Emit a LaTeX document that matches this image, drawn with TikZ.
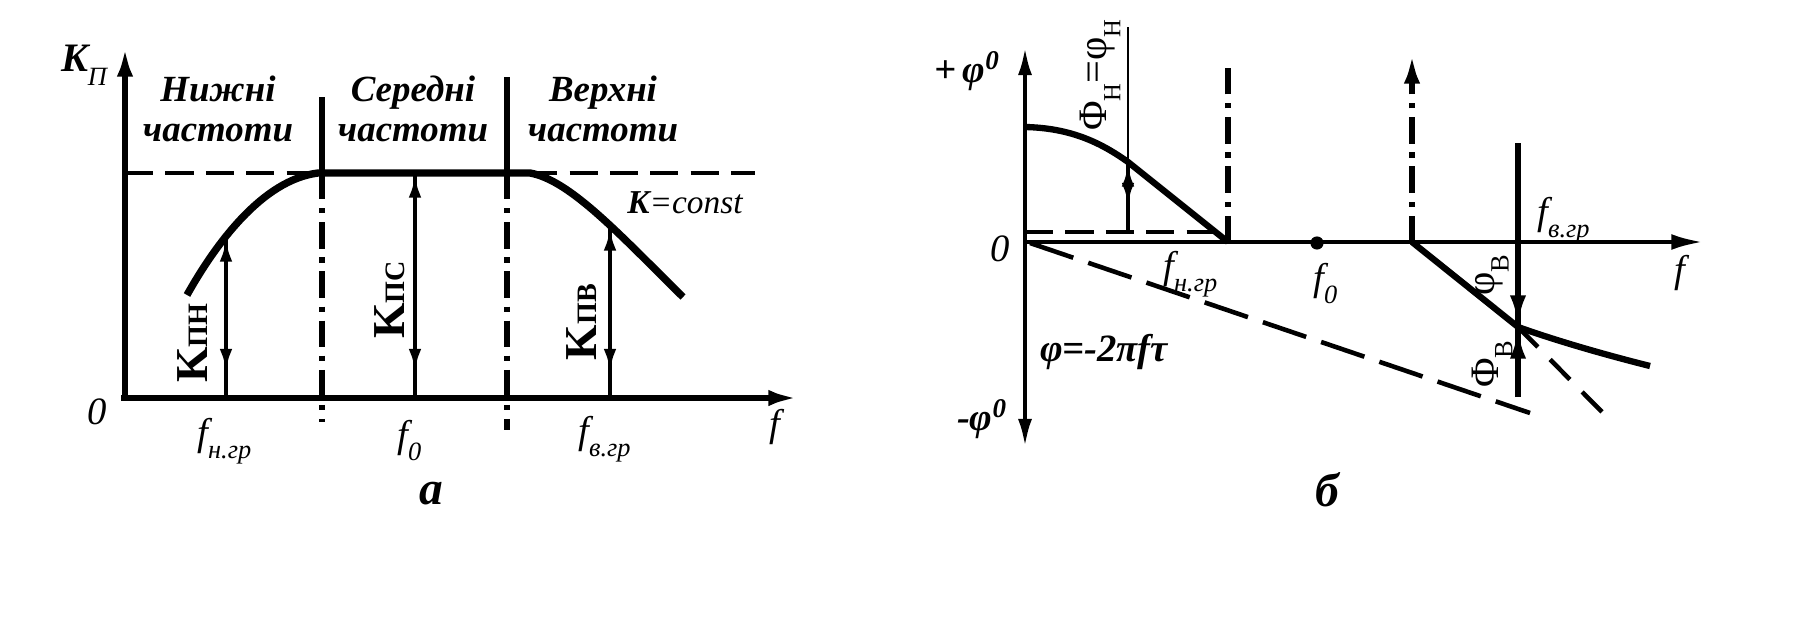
\documentclass[tikz,border=0pt]{standalone}
\usepackage{fontspec}
\setmainfont{Liberation Serif}
\usetikzlibrary{arrows.meta,decorations.markings}
\newcommand{\lowidx}[2][15]{\raisebox{-0.35em}{\fontsize{#1}{#1}\selectfont #2}}

\begin{document}
\begin{tikzpicture}[%
    x=0.02cm, y=-0.02cm,
    axis/.style={line width=3.8pt},
    thinaxis/.style={line width=2.4pt},
    headed/.style={-{Latex[length=18pt,width=9pt]}},
    curve/.style={line width=4.2pt, line join=round},
    plateau/.style={line width=2.8pt, dash pattern=on 16pt off 7pt},
    divider/.style={line width=3.6pt, dash pattern=on 15pt off 5pt on 3pt off 5pt},
    delay/.style={line width=2.6pt, dash pattern=on 26pt off 9pt},
    gain/.style={line width=2.8pt,
        postaction={decorate, decoration={markings,
            mark=at position 14pt with {\arrow{Latex[reversed,length=14pt,width=7pt]}},
            mark=at position -14pt with {\arrow{Latex[length=14pt,width=7pt]}}}}},
    band/.style={font=\fontsize{21}{22.7}\selectfont\bfseries\itshape,
        align=center, inner sep=0pt, anchor=north},
    freq/.style={font=\fontsize{22}{24}\selectfont\itshape, inner sep=0pt},
    gainlabel/.style={font=\fontsize{26}{28}\selectfont\bfseries, rotate=90, inner sep=0pt},
    anglelabel/.style={font=\fontsize{23}{25}\selectfont, rotate=90, inner sep=0pt},
    tag/.style={font=\fontsize{22}{24}\selectfont\bfseries\itshape, inner sep=0pt},
    caption/.style={font=\fontsize{27}{30}\selectfont\bfseries\itshape, inner sep=0pt},
]
\useasboundingbox (0,0) rectangle (1796,636);

% а
\coordinate (O1) at (125,398);
\coordinate (O1x) at (121,398);
\coordinate (Y1) at (125,45);
\coordinate (X1) at (800,398);
\coordinate (L0) at (125,173);
\coordinate (L1) at (755,173);
\coordinate (A0) at (187,295);
\coordinate (A1) at (318,173);
\coordinate (A2) at (530,173);
\coordinate (A3) at (683,297);

\draw[plateau] (L0) -- (L1);
\draw[curve] (A0) .. controls (215,245) and (262,180) .. (A1) -- (A2)
    .. controls (570,180) and (620,235) .. (A3);
\foreach \x/\ya/\yb [count=\i] in {322/97/422, 507/77/430}{
    \coordinate (top\i) at (\x,\ya);
    \coordinate (mid\i) at (\x,173);
    \coordinate (bot\i) at (\x,\yb);
    \draw[axis] (top\i) -- (mid\i);
    \draw[divider] (mid\i) -- (bot\i);
}
\foreach \x/\y [count=\i] in {226/237, 415/173, 610/226}{
    \coordinate (gtop\i) at (\x,\y);
    \coordinate (gbot\i) at (\x,398);
    \draw[gain] (gtop\i) -- (gbot\i);
}
\draw[axis, headed] (O1) -- (Y1);
\draw[axis, headed] (O1x) -- (X1);

\node[font=\fontsize{23}{25}\selectfont\itshape, inner sep=0pt] (Kp) at (84,65)
    {{\bfseries K}\lowidx[15]{П}};
\node[band] (low) at (218,76) {Нижні\\частоти};
\node[band] (middle) at (413,76) {Середні\\частоти};
\node[band] (high) at (603,76) {Верхні\\частоти};
\node[font=\fontsize{19}{21}\selectfont\itshape, inner sep=0pt] (const) at (685,203)
    {{\bfseries K}=const};
\node[gainlabel] (Kn) at (193,343) {K{\fontsize{16}{16}\selectfont ПН}};
\node[gainlabel] (Kc) at (390,300) {K{\fontsize{16}{16}\selectfont ПС}};
\node[gainlabel] (Kv) at (582,322) {K{\fontsize{16}{16}\selectfont ПВ}};
\node[freq] (zero1) at (97,412) {0};
\node[freq, anchor=base west] (fn1) at (197,445) {f\lowidx{н.гр}};
\node[freq, anchor=base west] (f01) at (397,447) {f\lowidx{0}};
\node[freq, anchor=base west] (fv1) at (578,443) {f\lowidx{в.гр}};
\node[freq] (f1) at (775,427) {f};
\node[caption] (capa) at (431,494) {а};

% б
\coordinate (O2) at (1025,242);
\coordinate (Y2t) at (1025,47);
\coordinate (Y2b) at (1025,447);
\coordinate (X2) at (1703,242);
\coordinate (T0) at (1030,243);
\coordinate (T1) at (1530,413);
\coordinate (B0) at (1025,127);
\coordinate (B1) at (1128,162);
\coordinate (B2) at (1228,242);
\coordinate (C0) at (1412,242);
\coordinate (C1) at (1518,327);
\coordinate (C2) at (1650,366);
\coordinate (C3) at (1603,413);
\coordinate (H0) at (1025,232);
\coordinate (H1) at (1215,232);
\coordinate (Ht) at (1128,27);
\coordinate (Hb) at (1128,232);
\coordinate (R1t) at (1228,67);
\coordinate (R2t) at (1412,52);
\coordinate (Vt) at (1518,143);
\coordinate (Va) at (1518,242);
\coordinate (Vb) at (1518,397);

\draw[delay] (T0) -- (T1);
\draw[thinaxis, {Latex[length=16pt,width=8pt]}-{Latex[length=16pt,width=8pt]}] (Y2b) -- (Y2t);
\draw[thinaxis, headed] (O2) -- (X2);
\draw[plateau, line width=2.2pt] (H0) -- (H1);
\draw[line width=1.2pt] (Ht) -- (B1);
\draw[gain] (B1) -- (Hb);
\draw[divider] (B2) -- (R1t);
\draw[divider, headed] (C0) -- (R2t);
\draw[curve, line width=3.6pt] (B0) .. controls (1070,128) and (1100,142) .. (B1) -- (B2);
\draw[curve, line width=3.6pt] (C0) -- (C1) .. controls (1560,342) and (1610,356) .. (C2);
\draw[delay, dash pattern=on 16pt off 10pt] (C1) -- (C3);
\draw[line width=3.4pt] (Vt) -- (Vb);
\draw[line width=3.4pt, headed] (Va) -- (C1);
\draw[line width=3.4pt, headed] (Vb) -- (C1);
\node[circle, fill, inner sep=0pt, minimum size=7.5pt] (dot) at (1317,243) {};

\node[tag] (plusphi) at (967,71) {+\,φ\textsuperscript{0}};
\node[freq] (zero2) at (1000,249) {0};
\node[tag] (minusphi) at (982,419) {-φ\textsuperscript{0}};
\node[freq, anchor=base west] (fn2) at (1163,278) {f\lowidx{н.гр}};
\node[freq, anchor=base west] (f02) at (1313,290) {f\lowidx{0}};
\node[tag] (law) at (1104,352) {φ=-2πfτ};
\node[freq, anchor=base west] (fv2) at (1537,224) {f\lowidx{в.гр}};
\node[freq] (f2) at (1680,273) {f};
\node[anglelabel] (PhiH) at (1100,75) {Φ\lowidx[14]{Н}=φ\lowidx[14]{Н}};
\node[anglelabel] (phiB) at (1492,275) {φ\lowidx[15]{В}};
\node[anglelabel] (PhiB) at (1492,364) {Φ\lowidx[15]{В}};
\node[caption] (capb) at (1327,490) {б};
\end{tikzpicture}
\end{document}
